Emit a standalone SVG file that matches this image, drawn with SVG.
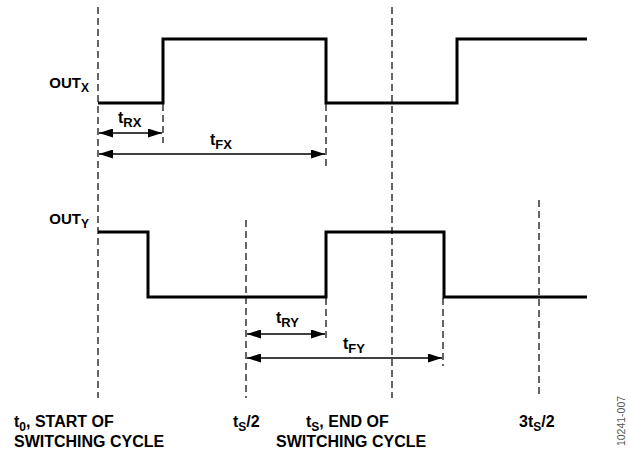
<svg xmlns="http://www.w3.org/2000/svg" width="629" height="453" viewBox="0 0 629 453">
<style>
.dash{stroke:#000;stroke-width:1.2;stroke-dasharray:7,4;fill:none}
.wave{stroke:#000;stroke-width:3;fill:none;stroke-linejoin:miter}
.arr{stroke:#000;stroke-width:1.6;fill:none;marker-start:url(#ah);marker-end:url(#ah)}
text{font-family:"Liberation Sans",Arial,sans-serif;font-weight:bold;font-size:16px;fill:#000}
.sub{font-size:12px}
.lbl{font-size:15px}
.t{font-size:16px}
.ts{font-size:13px}
</style>
<defs>
<marker id="ah" viewBox="0 0 14 9" refX="14" refY="4.5" markerWidth="14" markerHeight="9" markerUnits="userSpaceOnUse" orient="auto-start-reverse">
<path d="M0,0 L14,4.5 L0,9 Z" fill="#000"/>
</marker>
</defs>
<rect width="629" height="453" fill="#fff"/>
<g id="guides">
<line class="dash" x1="98" y1="7" x2="98" y2="398"/>
<line class="dash" x1="392" y1="7" x2="392" y2="398"/>
<line class="dash" x1="246" y1="220" x2="246" y2="398"/>
<line class="dash" x1="539" y1="200" x2="539" y2="398"/>
<line class="dash" x1="163" y1="104" x2="163" y2="143"/>
<line class="dash" x1="326" y1="104" x2="326" y2="168"/>
<line class="dash" x1="326" y1="298" x2="326" y2="342"/>
<line class="dash" x1="443" y1="298" x2="443" y2="366"/>
</g>
<g id="outx">
<polyline class="wave" points="98,103 163,103 163,39 326,39 326,103 457,103 457,39 587,39"/>
<text class="lbl" x="89" y="88" text-anchor="end">OUT<tspan class="sub" dy="4">X</tspan></text>
</g>
<g id="outy">
<polyline class="wave" points="98,232 148,232 148,297 326,297 326,232 444,232 444,297 587,297"/>
<text class="lbl" x="89" y="224" text-anchor="end">OUT<tspan class="sub" dy="4">Y</tspan></text>
</g>
<g id="connectors">
<line class="arr" x1="99" y1="133" x2="162" y2="133"/>
<line class="arr" x1="99" y1="154" x2="325" y2="154"/>
<line class="arr" x1="247" y1="334" x2="325" y2="334"/>
<line class="arr" x1="247" y1="358" x2="442" y2="358"/>
</g>
<g id="labels">
<text class="t" x="118" y="123">t<tspan class="ts" dy="4">RX</tspan></text>
<text class="t" x="210" y="145">t<tspan class="ts" dy="4">FX</tspan></text>
<text class="t" x="276" y="323">t<tspan class="ts" dy="4">RY</tspan></text>
<text class="t" x="343" y="349">t<tspan class="ts" dy="4">FY</tspan></text>
<text x="14" y="427">t<tspan class="sub" dy="4">0</tspan><tspan dy="-4">, START OF</tspan></text>
<text x="14" y="447">SWITCHING CYCLE</text>
<text x="233" y="427">t<tspan class="sub" dy="4">S</tspan><tspan dy="-4">/2</tspan></text>
<text x="306" y="427">t<tspan class="sub" dy="4">S</tspan><tspan dy="-4">, END OF</tspan></text>
<text x="276" y="447">SWITCHING CYCLE</text>
<text x="519" y="427">3t<tspan class="sub" dy="4">S</tspan><tspan dy="-4">/2</tspan></text>
<text x="625" y="421" text-anchor="middle" transform="rotate(-90 625 421)" style="font-weight:normal;font-size:10.5px;fill:#555">10241-007</text>
</g>
</svg>
